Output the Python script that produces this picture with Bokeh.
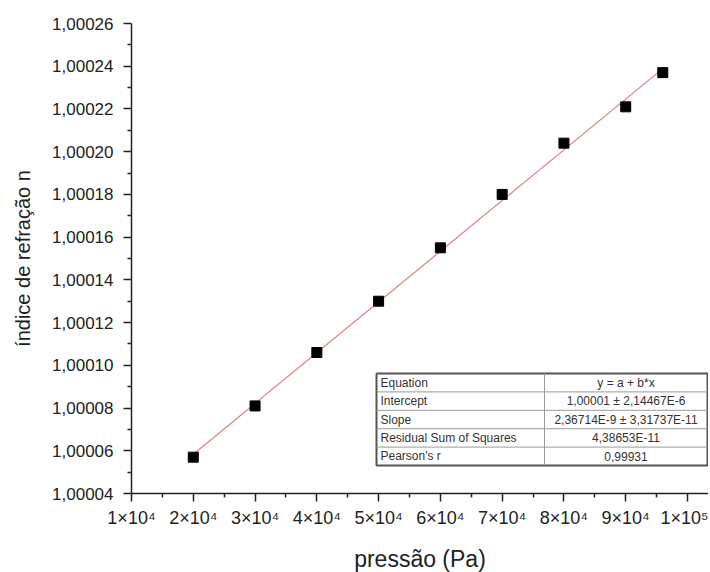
import numpy as np
from bokeh.plotting import figure
from bokeh.models import (Range1d, FixedTicker, CustomJSTickFormatter)
from bokeh.core.properties import value
from bokeh.embed import file_html
from bokeh.resources import INLINE

# ---- data ----
pressure = [20000, 30000, 40000, 50000, 60000, 70000, 80000, 90000, 96000]
n_index = [1.000057, 1.000081, 1.000106, 1.000130, 1.000155, 1.000180, 1.000204, 1.000221, 1.000237]

x_ticks = [10000, 20000, 30000, 40000, 50000, 60000, 70000, 80000, 90000, 100000]
x_tick_labels = ["1×10⁴", "2×10⁴", "3×10⁴", "4×10⁴", "5×10⁴", "6×10⁴", "7×10⁴", "8×10⁴", "9×10⁴", "1×10⁵"]
y_ticks = [1.00004, 1.00006, 1.00008, 1.00010, 1.00012, 1.00014, 1.00016, 1.00018, 1.00020, 1.00022, 1.00024, 1.00026]

table_names = ["Equation", "Intercept", "Slope", "Residual Sum of Squares", "Pearson's r"]
table_values = ["y = a + b*x", "1,00001 ± 2,14467E-6", "2,36714E-9 ± 3,31737E-11", "4,38653E-11", "0,99931"]

FONT = "Liberation Sans"
FW, FH = 577, 470

p = figure(frame_width=FW, frame_height=FH, output_backend="svg", toolbar_location=None,
           x_range=Range1d(10000, 103400), y_range=Range1d(1.00004, 1.00026),
           min_border_left=131, min_border_right=0, min_border_top=23, min_border_bottom=79)
p.extra_x_ranges = {"tbl": Range1d(0, FW)}
p.extra_y_ranges = {"tbl": Range1d(FH, 0)}

p.outline_line_color = None
p.xgrid.visible = False
p.ygrid.visible = False
p.background_fill_color = "white"
p.border_fill_color = "white"

# axes
xa = p.xaxis[0]
xa.ticker = FixedTicker(ticks=x_ticks, minor_ticks=[t + 5000 for t in x_ticks])
xa.major_label_overrides = {t: l for t, l in zip(x_ticks, x_tick_labels)}
ya = p.yaxis[0]
ya.ticker = FixedTicker(ticks=y_ticks, minor_ticks=[round(t + 0.00001, 6) for t in y_ticks[:-1]])
ya.formatter = CustomJSTickFormatter(code="return tick.toFixed(5).replace('.', ',');")

for ax in (xa, ya):
    ax.axis_line_color = "#222"
    ax.axis_line_width = 1.5
    ax.major_tick_line_color = "#222"
    ax.major_tick_line_width = 1.5
    ax.minor_tick_line_color = "#222"
    ax.minor_tick_line_width = 1.5
    ax.major_tick_out = 8
    ax.major_tick_in = 0
    ax.minor_tick_out = 4
    ax.minor_tick_in = 0
    ax.major_label_text_font = FONT
    ax.major_label_text_color = "#222"
    ax.axis_label_text_font = FONT
    ax.axis_label_text_font_style = "normal"
    ax.axis_label_text_color = "#222"

xa.major_label_standoff = 6
ya.major_label_standoff = 10
ya.major_label_text_font_size = "17px"
xa.major_label_text_font_size = "18px"
xa.axis_label = "pressão (Pa)"
xa.axis_label_text_font_size = "23px"
xa.axis_label_standoff = 15
ya.axis_label = "índice de refração n"
ya.axis_label_text_font_size = "20px"
ya.axis_label_standoff = 15

# linear fit line
slope, intercept = np.polyfit(np.array(pressure, float), np.array(n_index) - 1.0, 1)
xf = np.array([min(pressure), max(pressure)], float)
p.line(xf, 1.0 + intercept + slope * xf, line_color="#d88080", line_width=1.2)

# data points
p.scatter(pressure, n_index, marker="square", size=10, fill_color="black", line_color="black")

# ---- fit results table (frame pixel coordinates) ----
tl, tr, tt, tb = 245, 576, 350, 442
col = 413
nrow = len(table_names)
rh = (tb - tt) / nrow
p.quad(left=[tl], right=[tr], top=[tt], bottom=[tb], fill_color="white", line_color="#555",
       line_width=2, x_range_name="tbl", y_range_name="tbl")
ys = [tt + rh * (i + 1) for i in range(nrow - 1)]
p.segment(x0=[tl] * len(ys), x1=[tr] * len(ys), y0=ys, y1=ys, line_color="#9a9a9a", line_width=1,
          x_range_name="tbl", y_range_name="tbl")
p.segment(x0=[col], x1=[col], y0=[tt], y1=[tb], line_color="#9a9a9a", line_width=1,
          x_range_name="tbl", y_range_name="tbl")
yc = [tt + rh * (i + 0.5) for i in range(nrow)]
p.text(x=[tl + 4] * nrow, y=yc, text=table_names, text_font=value(FONT), text_font_size="12px",
       text_color="#333", text_align="left", text_baseline="middle",
       x_range_name="tbl", y_range_name="tbl")
p.text(x=[(col + tr) / 2] * nrow, y=yc, text=table_values, text_font=value(FONT), text_font_size="12px",
       text_color="#333", text_align="center", text_baseline="middle",
       x_range_name="tbl", y_range_name="tbl")

open("out.html", "w").write(file_html(p, INLINE))
